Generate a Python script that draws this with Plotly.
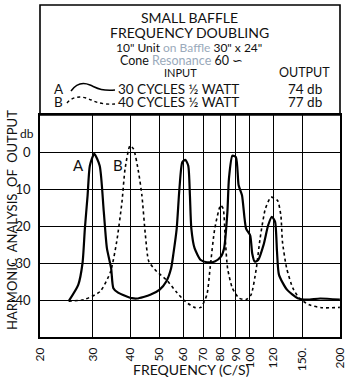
import math
import plotly.graph_objects as go

# ---- data ----
freq_a = [24.9, 26.8, 27.7, 28.2, 28.8, 29.3, 30.3, 31.6, 32.6, 33.4, 34.5, 35.1, 36.4, 40.5, 42.1,
          46.6, 50.1, 52.7, 54.7, 55.7, 57.1, 58.3, 59.6, 61.0, 62.4, 63.2, 63.9, 65.5, 68.7, 72.0,
          76.5, 80.2, 82.2, 84.3, 85.3, 87.6, 90.0, 91.9, 94.3, 97.3, 100.4, 102.0, 103.9, 106.8,
          111.3, 115.3, 118.7, 121.6, 123.4, 125.3, 133.2, 144.7, 155.4, 171.9, 200.0]
db_a = [-40.3, -35.9, -30, -20.7, -11.7, -3.7, -0.5, -3.7, -16, -26, -31.4, -36.8, -38, -39.5, -39.6,
        -38.6, -37.2, -35, -31.4, -27.4, -20.7, -10, -2.8, -2.1, -3.7, -11.7, -20.7, -26, -29.2, -29.8,
        -29.6, -28.3, -26, -16.2, -7.2, -1, -1.4, -9, -11.7, -20.7, -22.5, -27.4, -29.6, -29.2,
        -25.1, -19.8, -17.5, -18.9, -26.9, -33.2, -37.2, -39.5, -39.9, -39.6, -39.9]

freq_b = [24.9, 28.0, 31.7, 34.3, 36.0, 37.5, 38.4, 39.9, 41.0, 42.6, 43.7, 44.9, 46.1, 49.0, 52.7,
          56.8, 61.0, 65.5, 68.7, 72.0, 73.8, 76.5, 80.0, 81.6, 82.9, 84.4, 87.6, 92.2, 97.2, 101.1,
          105.3, 108.4, 112.9, 117.9, 123.9, 127.1, 128.7, 132.9, 139.4, 146.4, 158.0, 175.0, 200.0]
db_b = [-40.3, -39.9, -37.7, -32.5, -24.3, -13.5, -4.6, 1.7, 0.8, -5.5, -11.7, -22.5, -29.6, -32.3, -34.5,
        -37.7, -40.4, -42, -42, -38.6, -31.4, -20.7, -14.4, -15.3, -23.3, -31.4, -36.8, -39.5, -39.9, -38.6,
        -31.4, -23.3, -15.3, -12.2, -13.1, -17.1, -24.3, -31.4, -36.8, -39.5, -41.3, -42.1, -42]

x_ticks = [20, 30, 40, 50, 60, 70, 80, 90, 100, 120, 150, 200]
x_ticktext = ["20", "30", "40", "50", "60", "70", "80", "90", "100", "120", "150.", "200"]
y_ticks = [0, -10, -20, -30, -40]
y_ticktext = ["0", "10", "20", "-30", "-40"]

FONT = "Lato"
W, H = 345, 378
L, R, T, B = 40, 5, 115, 41
PH = H - T - B  # plot height px
PW = W - L - R


def py(ypx):
    """pixel y -> paper y"""
    return (H - B - ypx) / PH


def px(xpx):
    return (xpx - L) / PW


fig = go.Figure()
fig.add_trace(go.Scatter(x=freq_a, y=db_a, mode="lines",
                         line=dict(color="black", width=2.2, shape="spline", smoothing=0.6),
                         showlegend=False))
fig.add_trace(go.Scatter(x=freq_b, y=db_b, mode="lines",
                         line=dict(color="black", width=1.6, dash="dot", shape="spline", smoothing=0.6),
                         showlegend=False))

fig.update_xaxes(type="log", range=[math.log10(20) - 0.0005, math.log10(200) + 0.0005],
                 tickvals=x_ticks, ticktext=x_ticktext, ticklabeloverflow="allow",
                 tickangle=-90, showgrid=True, gridcolor="black", gridwidth=1.4,
                 showline=True, linecolor="black", linewidth=1.6, mirror=True,
                 ticks="", ticklabelstandoff=4, tickfont=dict(family=FONT, size=12, color="#111"),
                 automargin=False, zeroline=False)
fig.update_yaxes(range=[-50, 10], tickvals=y_ticks, ticktext=y_ticktext,
                 showgrid=True, gridcolor="black", gridwidth=1.4,
                 showline=True, linecolor="black", linewidth=1.6, mirror=True,
                 ticks="", ticklabelstandoff=5, tickfont=dict(family=FONT, size=13, color="#111"),
                 automargin=False, zeroline=False)

shapes = [
    # title box
    dict(type="rect", xref="paper", yref="paper", x0=0, x1=1, y0=1, y1=py(5),
         line=dict(color="black", width=1.6), fillcolor="rgba(0,0,0,0)"),
    # legend sample A (solid wave)
    dict(type="path", xref="paper", yref="paper",
         path=(f"M {px(71)},{py(91)} C {px(76)},{py(84)} {px(83)},{py(82)} {px(90)},{py(85)} "
               f"S {px(100)},{py(91)} {px(115)},{py(90)}"),
         line=dict(color="black", width=1.5)),
    # legend sample B (dotted wave)
    dict(type="path", xref="paper", yref="paper",
         path=(f"M {px(67)},{py(103)} C {px(72)},{py(97)} {px(79)},{py(96)} {px(86)},{py(98)} "
               f"S {px(98)},{py(105)} {px(115)},{py(104)}"),
         line=dict(color="black", width=1.4, dash="dot")),
]

ann = []


def add_text(x, y, text, size=13, xanchor="center", angle=0):
    ann.append(dict(xref="paper", yref="paper", x=px(x), y=py(y), text=text, showarrow=False,
                    xanchor=xanchor, yanchor="middle", textangle=angle,
                    font=dict(family=FONT, size=size, color="#111")))


faded = "<span style='color:#9aaabb'>"
add_text(189, 17, "SMALL BAFFLE", 14)
add_text(189, 32, "FREQUENCY DOUBLING", 14)
add_text(189, 47, "10\" Unit " + faded + "on Baffle</span> 30\" x 24\"", 12)
add_text(181, 60, "Cone " + faded + "Resonance</span> 60 ∽", 12.5)
add_text(180, 73, "INPUT", 11)
add_text(304, 73, "OUTPUT", 12.5)
add_text(52, 89, "A", 13.5, xanchor="left")
add_text(116, 89, "30 CYCLES ½ WATT", 13.5, xanchor="left")
add_text(324, 89, "74 db", 13.5, xanchor="right")
add_text(52, 102, "B", 13.5, xanchor="left")
add_text(116, 102, "40 CYCLES ½ WATT", 13.5, xanchor="left")
add_text(324, 102, "77 db", 13.5, xanchor="right")
add_text(27, 133, "db", 12)
add_text(12, 220, "HARMONIC  ANALYSIS  OF  OUTPUT", 13, angle=-90)
add_text(78, 165, "A", 15)
add_text(118, 165, "B", 15)
add_text(191, 369, "FREQUENCY (C/S)", 14)

fig.update_layout(width=W, height=H, margin=dict(l=L, r=R, t=T, b=B, autoexpand=False),
                  paper_bgcolor="white", plot_bgcolor="white",
                  shapes=shapes, annotations=ann, showlegend=False)

fig.write_html("out.html", config={"displayModeBar": False},
               post_script="document.body.style.margin='0';document.body.style.padding='0';")
